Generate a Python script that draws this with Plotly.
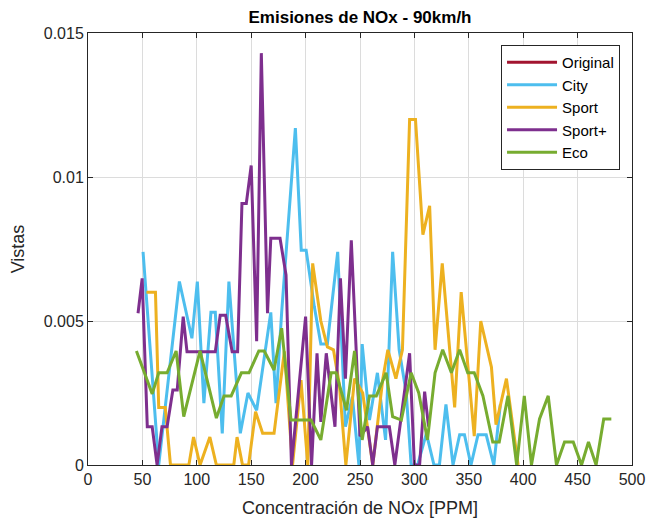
import plotly.graph_objects as go

# ---- data ----
eco_x = [44.5, 59, 65, 72.7, 81, 88, 103, 118, 125, 131.6, 141, 148, 157, 162, 171, 178,
         186.6, 205, 214, 223.5, 228, 237.6, 245, 252, 258.7, 265, 274, 280, 288, 297, 304,
         312, 319, 326, 334, 341.6, 349, 355, 363, 372, 378, 386, 394, 401, 407.6, 415, 423,
         430.6, 438, 446, 453.6, 460, 467, 474, 481]
eco_y = [3.96, 2.47, 3.2, 3.2, 3.96, 1.68, 3.96, 1.63, 2.4, 2.4, 3.2, 3.2, 3.96, 3.96, 3.3, 4.75,
         1.56, 1.56, 0.87, 3.2, 3.2, 1.9, 3.96, 0.87, 2.4, 2.4, 3.2, 1.68, 1.56, 3.2, 2.5,
         0.87, 3.2, 4.0, 3.2, 4.0, 3.2, 3.2, 2.4, 0.8, 0.8, 2.4, 0, 2.4, 0, 1.6, 2.4,
         0, 0.8, 0.8, 0, 0.8, 0, 1.6, 1.6]

city_x = [50.6, 65, 84, 95.5, 100.5, 106.5, 113, 117, 123.4, 129.5, 140, 147, 155, 168, 172.8,
          178, 190.6, 196, 200.5, 208, 214, 220, 229.5, 236.6, 243, 249, 252, 258.7, 266,
          273.5, 280, 286, 292.5, 297, 303, 311, 318, 323, 329, 335.5, 341.6, 346, 352,
          358.5, 366, 373, 379]
city_y = [7.4, 0, 6.37, 4.4, 6.37, 2.15, 5.3, 5.3, 1.1, 6.37, 1.1, 2.5, 1.9, 5.3, 2.15,
          5.3, 11.7, 7.46, 7.46, 5.5, 4.2, 4.2, 7.4, 1.33, 2.37, 0, 4.2, 1.56, 3.2,
          0.87, 7.4, 4.0, 2.5, 0, 0, 1.1, 0, 0, 2.1, 0, 1.05, 1.05, 0,
          1.05, 1.05, 0, 2.1]

sport_x = [53.7, 62, 65, 71, 75.8, 92.7, 97, 103, 112, 118, 134, 137, 142, 147.6, 154, 160.5,
           171, 180.5, 188, 195.8, 202, 206.5, 214, 220, 225.6, 231, 237, 245, 252.5, 261.7,
           271, 275.6, 283, 289, 295.6, 301, 307.8, 314, 319, 325.6, 337, 343, 355, 361,
           370.8, 375, 384.6, 395.3]
sport_y = [6.0, 6.0, 2.0, 2.0, 0, 0, 0.97, 0, 0.97, 0, 0, 0.97, 0, 0, 1.85, 1.1,
           1.1, 3.95, 0, 2.95, 0, 7.0, 5.0, 4.1, 4.0, 2.8, 0, 3.0, 2.5, 0,
           3.0, 4.0, 3.0, 4.0, 12.0, 12.0, 8.0, 9.0, 4.0, 7.0, 2.0, 6.0, 1.0, 5.0,
           3.4, 1.4, 3.0, 0]

sportp_x = [46, 49.8, 54.5, 59, 63.5, 68, 72.7, 78, 82, 87.5, 91, 117, 121.5, 126.5, 132.5,
            137.5, 141.5, 145.5, 150, 155, 159.3, 165, 168, 176.5, 182, 187, 200, 205.5,
            210.5, 214, 219, 227, 232, 236.6, 242, 246.5, 250, 257, 261.7, 266, 277, 282,
            295.6, 300, 304.8, 309.4, 313]
sportp_y = [5.27, 6.48, 1.33, 1.33, 0, 1.33, 1.33, 2.6, 2.6, 5.15, 3.93, 3.93, 5.2, 5.2, 3.93,
            3.93, 9.08, 9.08, 10.4, 4.3, 14.3, 5.27, 7.87, 7.87, 6.6, 0, 5.15, 0,
            3.88, 1.5, 3.88, 1.33, 6.48, 3.0, 7.8, 3.88, 1.0, 1.33, 0, 1.33, 1.33, 0,
            3.88, 0, 0, 2.55, 1.33]

orig_x = []
orig_y = []

series = [
    ("Original", orig_x, orig_y, "#A2142F"),
    ("City", city_x, city_y, "#4DBEEE"),
    ("Sport", sport_x, sport_y, "#EDB120"),
    ("Sport+", sportp_x, sportp_y, "#7E2F8E"),
    ("Eco", eco_x, eco_y, "#77AC30"),
]

x_ticks = [0, 50, 100, 150, 200, 250, 300, 350, 400, 450, 500]
y_ticks = [0, 0.005, 0.01, 0.015]
y_tick_text = ["0", "0.005", "0.01", "0.015"]

fig = go.Figure()
for name, xs, ys, col in series:
    fig.add_trace(go.Scatter(
        x=xs if xs else [None], y=[v / 1000 for v in ys] if ys else [None],
        mode="lines", name=name,
        line=dict(color=col, width=3)))

font_family = "Liberation Sans, Arial, Helvetica, sans-serif"
axis_common = dict(
    showline=True, linecolor="#262626", linewidth=1, mirror="ticks",
    ticks="inside", ticklen=5, tickcolor="#262626",
    showgrid=True, gridcolor="#DCDCDC", gridwidth=1, zeroline=False,
    automargin=False,
    tickfont=dict(family=font_family, size=16, color="#262626"),
)

fig.update_layout(
    width=651, height=520,
    margin=dict(l=88, r=19, t=33, b=55),
    paper_bgcolor="white", plot_bgcolor="white",
    title=dict(text="<b>Emisiones de NOx - 90km/h</b>", x=0.5, xref="paper",
               y=1 - 17 / 520, yanchor="middle",
               font=dict(family=font_family, size=17, color="black")),
    xaxis=dict(range=[0, 500], tickvals=x_ticks,
               title=dict(text="Concentración de NOx [PPM]", standoff=14,
                          font=dict(family=font_family, size=18, color="#262626")),
               **axis_common),
    yaxis=dict(range=[0, 0.015], tickvals=y_ticks, ticktext=y_tick_text,
               title=dict(text="Vistas", standoff=14,
                          font=dict(family=font_family, size=18, color="#262626")),
               **axis_common),
    legend=dict(x=0.978, y=0.972, xanchor="right", yanchor="top",
                bgcolor="white", bordercolor="#262626", borderwidth=1,
                font=dict(family=font_family, size=15, color="black"),
                tracegroupgap=0, itemwidth=50),
    showlegend=True,
)

fig.write_html("out.html")
